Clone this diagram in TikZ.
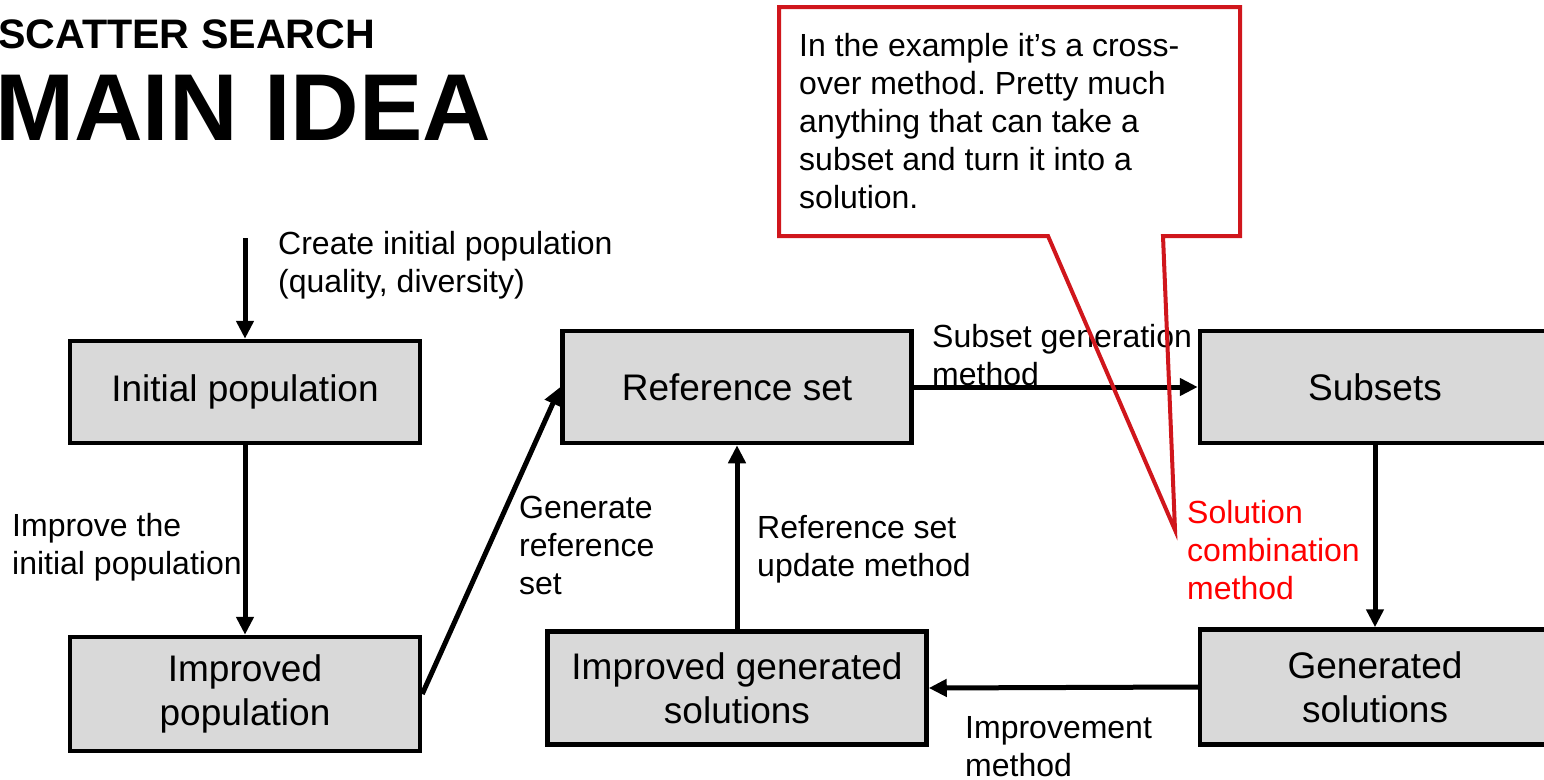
\documentclass[tikz,border=0pt]{standalone}
\usepackage{fontspec}
\setmainfont{Liberation Sans}
\usetikzlibrary{arrows.meta}
\definecolor{boxgray}{RGB}{217,217,217}
\definecolor{calloutred}{RGB}{208,22,28}
\definecolor{labelred}{RGB}{255,0,0}
\frenchspacing

\begin{document}
\begin{tikzpicture}[x=1pt,y=-1pt,
  stagebox/.style={draw=black, line width=4.5pt, fill=boxgray,
    minimum width=350pt, minimum height=104pt, align=center,
    font=\fontsize{37}{44}\selectfont, inner sep=0pt},
  flow/.style={line width=5pt, -{Triangle[length=18pt,width=17pt]}},
  steplabel/.style={anchor=north west, align=left, inner sep=0pt,
    font=\fontsize{32}{38}\selectfont},
  calloutline/.style={draw=calloutred, line width=4pt, line join=miter},
]
\useasboundingbox (0,0) rectangle (1544,779);
\clip (0,0) rectangle (1544,779);

% title
\node[anchor=base west, inner sep=0pt, font=\bfseries\fontsize{41.2}{45}\selectfont]
  (title) at (-2,48) {SCATTER SEARCH};
\node[anchor=base west, inner sep=0pt, font=\bfseries\fontsize{95}{100}\selectfont]
  (subtitle) at (-5,140) {MAIN IDEA};

% stages
\node[stagebox, minimum height=102pt] (init) at (245,392) {Initial population};
\node[stagebox, minimum height=114pt] (imppop) at (245,694) {Improved\\population};
\node[stagebox, minimum width=349pt, minimum height=112pt] (ref) at (737,387) {Reference set};
\node[stagebox, minimum height=112pt] (subs) at (1375,387) {Subsets};
\node[stagebox, minimum height=115pt] (gen) at (1375,687) {Generated\\solutions};
\node[stagebox, minimum width=379pt, minimum height=113pt] (impgen) at (737,688) {Improved generated\\solutions};

% connectors
\coordinate (start) at (245,238);
\draw[flow] (start) -- (init.north);
\draw[flow] (init.south) -- (imppop.north);
\draw[flow] (imppop.east) -- (ref.west);
\draw[flow] (impgen.north) -- (ref.south);
\draw[flow] (ref.east) -- (subs.west);
\draw[flow] (subs.south) -- (gen.north);
\draw[flow] (gen.west) -- (impgen.east);

% method labels
\node[steplabel] (lcreate) at (278,231) {Create initial population\\(quality, diversity)};
\node[steplabel] (limprove) at (12,513) {Improve the\\initial population};
\node[steplabel] (lgenref) at (519,496) {Generate\\reference\\set};
\node[steplabel] (lupdate) at (757,515) {Reference set\\update method};
\node[steplabel] (lsubset) at (932,324) {Subset generation\\method};
\node[steplabel, text=labelred] (lcombine) at (1187,500) {Solution\\combination\\method};
\node[steplabel] (limpmeth) at (965,716) {Improvement\\method};

% callout
\coordinate (cTL) at (779,7);
\coordinate (cTR) at (1240,7);
\coordinate (cBR) at (1240,236);
\coordinate (cBL) at (779,236);
\coordinate (tailR) at (1163,236);
\coordinate (tailL) at (1048,236);
\coordinate (tip) at (1175,530);
\draw[calloutline] (cTL) -- (cTR) -- (cBR) -- (tailR) -- (tip) -- (tailL) -- (cBL) -- cycle;
\node[steplabel] (note) at (799,33)
  {In the example it’s a cross-\\over method. Pretty much\\anything that can take a\\subset and turn it into a\\solution.};
\end{tikzpicture}
\end{document}
